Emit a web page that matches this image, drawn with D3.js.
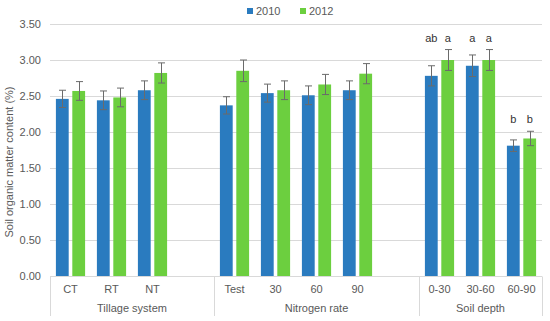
<!DOCTYPE html>
<html>
<head>
<meta charset="utf-8">
<script src="https://cdn.jsdelivr.net/npm/d3@7"></script>
<style>
  body { margin: 0; background: #fff; }
  text { font-family: "Liberation Sans", Arial, sans-serif; }
</style>
</head>
<body>
<div id="chart"></div>
<script>
// categories (empty strings are the gaps between groups)
const categories = ["CT", "RT", "NT", "", "Test", "30", "60", "90", "", "0-30", "30-60", "60-90"];
const groupLabels = ["Tillage system", "Nitrogen rate", "Soil depth"];
const groupSizes = [4, 5, 3];
const series = ["2010", "2012"];
const values2010 = [2.46, 2.44, 2.58, null, 2.37, 2.54, 2.51, 2.58, null, 2.78, 2.92, 1.81];
const values2012 = [2.57, 2.48, 2.82, null, 2.85, 2.58, 2.66, 2.81, null, 3.00, 3.00, 1.91];
const err2010 = [0.12, 0.13, 0.13, null, 0.12, 0.125, 0.13, 0.13, null, 0.14, 0.15, 0.08];
const err2012 = [0.13, 0.13, 0.14, null, 0.15, 0.13, 0.14, 0.14, null, 0.145, 0.145, 0.10];
const letters2010 = ["", "", "", "", "", "", "", "", "", "ab", "a", "b"];
const letters2012 = ["", "", "", "", "", "", "", "", "", "a", "a", "b"];
const yTicks = [0, 0.5, 1, 1.5, 2, 2.5, 3, 3.5];

const width = 550, height = 321;
const margin = {top: 24, right: 8, bottom: 45, left: 50};
const colors = {"2010": "#2a7bbf", "2012": "#6ccf3f"};
const txt = "#595959";

const svg = d3.select("#chart").append("svg")
    .attr("width", width)
    .attr("height", height);

const x = d3.scaleBand()
    .domain(d3.range(categories.length))
    .range([margin.left, width - margin.right])
    .padding(0);

const xs = d3.scaleBand()
    .domain(series)
    .range([0, x.bandwidth()])
    .paddingInner(0.22)
    .paddingOuter(0.36);

const y = d3.scaleLinear()
    .domain([0, 3.5])
    .range([height - margin.bottom, margin.top]);

// gridlines
svg.append("g")
    .selectAll("line")
    .data(yTicks)
    .enter()
    .append("line")
    .attr("x1", margin.left)
    .attr("x2", width - margin.right)
    .attr("y1", d => Math.round(y(d)) + 0.5)
    .attr("y2", d => Math.round(y(d)) + 0.5)
    .attr("stroke", "#d9d9d9");

// y axis labels
svg.append("g")
    .selectAll("text")
    .data(yTicks)
    .enter()
    .append("text")
    .attr("x", 41)
    .attr("y", d => y(d))
    .attr("dy", "0.35em")
    .attr("text-anchor", "end")
    .style("font-size", "11px")
    .style("fill", txt)
    .text(d => d3.format(".2f")(d));

svg.append("text")
    .attr("transform", `translate(13,${(margin.top + height - margin.bottom) / 2 + 12}) rotate(-90)`)
    .attr("text-anchor", "middle")
    .style("font-size", "11px")
    .style("fill", txt)
    .text("Soil organic matter content (%)");

// bars
const rows = [];
categories.forEach((c, i) => {
    if (values2010[i] != null) rows.push({i, s: "2010", v: values2010[i], e: err2010[i], l: letters2010[i]});
    if (values2012[i] != null) rows.push({i, s: "2012", v: values2012[i], e: err2012[i], l: letters2012[i]});
});

svg.append("g")
    .selectAll("rect")
    .data(rows)
    .enter()
    .append("rect")
    .attr("x", d => x(d.i) + xs(d.s))
    .attr("y", d => y(d.v))
    .attr("width", xs.bandwidth())
    .attr("height", d => y(0) - y(d.v))
    .attr("fill", d => colors[d.s]);

// error bars
const eb = svg.append("g")
    .attr("stroke", "#6b6b6b")
    .attr("stroke-width", 1);
rows.forEach(d => {
    const cx = Math.round(x(d.i) + xs(d.s) + xs.bandwidth() / 2) + 0.5;
    const t = y(d.v + d.e), b = y(d.v - d.e);
    eb.append("line").attr("x1", cx).attr("x2", cx).attr("y1", t).attr("y2", b);
    eb.append("line").attr("x1", cx - 3.5).attr("x2", cx + 3.5).attr("y1", t).attr("y2", t);
    eb.append("line").attr("x1", cx - 3.5).attr("x2", cx + 3.5).attr("y1", b).attr("y2", b);
});

// significance letters (aligned per category above the higher error bar)
svg.append("g")
    .selectAll("text")
    .data(rows.filter(d => d.l))
    .enter()
    .append("text")
    .attr("x", d => x(d.i) + xs(d.s) + xs.bandwidth() / 2)
    .attr("y", d => {
        const top = Math.max(values2010[d.i] + err2010[d.i], values2012[d.i] + err2012[d.i]);
        return y(top) - 8;
    })
    .attr("text-anchor", "middle")
    .style("font-size", "11px")
    .style("fill", "#333")
    .text(d => d.l);

// x axis line
const base = Math.round(y(0)) + 0.5;
svg.append("line")
    .attr("x1", margin.left)
    .attr("x2", width - margin.right)
    .attr("y1", base)
    .attr("y2", base)
    .attr("stroke", "#d9d9d9");

// category labels
svg.append("g")
    .selectAll("text")
    .data(categories)
    .enter()
    .append("text")
    .attr("x", (d, i) => x(i) + x.bandwidth() / 2)
    .attr("y", 293)
    .attr("text-anchor", "middle")
    .style("font-size", "11px")
    .style("fill", txt)
    .text(d => d);

// group labels + separators
let start = 0;
const bounds = [0];
groupSizes.forEach(n => { start += n; bounds.push(start); });

svg.append("g")
    .selectAll("line")
    .data(bounds)
    .enter()
    .append("line")
    .attr("x1", d => Math.round(d < categories.length ? x(d) : x(d - 1) + x.bandwidth()) + 0.5)
    .attr("x2", d => Math.round(d < categories.length ? x(d) : x(d - 1) + x.bandwidth()) + 0.5)
    .attr("y1", base)
    .attr("y2", 316)
    .attr("stroke", "#d9d9d9");

svg.append("g")
    .selectAll("text")
    .data(groupLabels)
    .enter()
    .append("text")
    .attr("x", (d, g) => {
        const a = x(bounds[g]);
        const b = x(bounds[g + 1] - 1) + x.bandwidth();
        return (a + b) / 2;
    })
    .attr("y", 312)
    .attr("text-anchor", "middle")
    .style("font-size", "11px")
    .style("fill", txt)
    .text(d => d);

// legend
const legend = svg.append("g")
    .selectAll("g")
    .data(series)
    .enter()
    .append("g")
    .attr("transform", (d, i) => `translate(${247 + i * 53},0)`);

legend.append("rect")
    .attr("y", 8)
    .attr("width", 6)
    .attr("height", 6)
    .attr("fill", d => colors[d]);

legend.append("text")
    .attr("x", 9)
    .attr("y", 15)
    .style("font-size", "11px")
    .style("fill", txt)
    .text(d => d);
</script>
</body>
</html>
